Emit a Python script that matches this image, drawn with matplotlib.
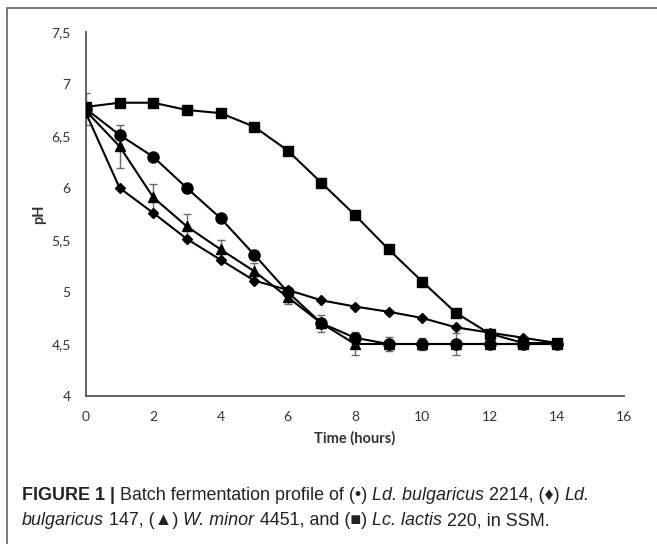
import matplotlib.pyplot as plt
from matplotlib.patches import Rectangle

# pH readings, one value per hour
hours = list(range(15))
ph_ld_2214 = [6.76, 6.51, 6.30, 6.00, 5.71, 5.36, 5.00, 4.70, 4.56, 4.50, 4.50, 4.50, 4.50, 4.50, 4.50]
ph_ld_147 = [6.72, 6.00, 5.76, 5.51, 5.31, 5.11, 5.02, 4.92, 4.86, 4.81, 4.75, 4.66, 4.61, 4.56, 4.51]
ph_w_minor = [6.74, 6.40, 5.91, 5.63, 5.41, 5.20, 4.95, 4.70, 4.50, 4.50, 4.50, 4.50, 4.50, 4.50, 4.50]
ph_lc_lactis = [6.78, 6.82, 6.82, 6.75, 6.72, 6.59, 6.36, 6.05, 5.74, 5.41, 5.10, 4.80, 4.60, 4.51, 4.51]

err_ld_2214 = [0.15, 0, 0, 0, 0, 0, 0, 0, 0.06, 0.07, 0.06, 0.11, 0, 0, 0]
err_w_minor = [0, 0.21, 0.13, 0.12, 0.09, 0.08, 0.07, 0.08, 0.11, 0, 0, 0, 0, 0, 0]

x_ticks = [0, 2, 4, 6, 8, 10, 12, 14, 16]
y_ticks = [4, 4.5, 5, 5.5, 6, 6.5, 7, 7.5]
y_tick_labels = ["4", "4,5", "5", "5,5", "6", "6,5", "7", "7,5"]

caption_lines = [
    [("FIGURE 1 |", "bold"), (" Batch fermentation profile of (\u2022) ", "normal"),
     ("Ld. bulgaricus", "italic"), (" 2214, (\u2666) ", "normal"), ("Ld.", "italic")],
    [("bulgaricus", "italic"), (" 147, (\u25B2) ", "normal"), ("W. minor", "italic"),
     (" 4451, and (\u25A0) ", "normal"), ("Lc. lactis", "italic"), (" 220, in SSM.", "normal")],
]

W, H = 657, 544
fig = plt.figure(figsize=(W / 100, H / 100), dpi=100)
ax = fig.add_axes([86 / W, 1 - 396 / H, 538 / W, 364 / H])

tick_font = "Lato"
line_kw = dict(color="black", linewidth=1.5, zorder=3)


def draw_err(values, errs):
    xs = [h for h, e in zip(hours, errs) if e > 0]
    ys = [v for v, e in zip(values, errs) if e > 0]
    es = [e for e in errs if e > 0]
    ax.errorbar(xs, ys, yerr=es, fmt="none", ecolor="#6a6a6a", elinewidth=1.0,
                capsize=3, capthick=1.0, zorder=2)


draw_err(ph_ld_2214, err_ld_2214)
draw_err(ph_w_minor, err_w_minor)

ax.plot(hours, ph_ld_147, marker="D", markersize=5.5, **line_kw)
ax.plot(hours, ph_w_minor, marker="^", markersize=7.5, **line_kw)
ax.plot(hours, ph_ld_2214, marker="o", markersize=8, **line_kw)
ax.plot(hours, ph_lc_lactis, marker="s", markersize=7.5, **line_kw)

ax.set_xlim(0, 16)
ax.set_ylim(4, 7.5)
ax.set_xticks(x_ticks)
ax.set_yticks(y_ticks)
ax.set_yticklabels(y_tick_labels)
ax.tick_params(length=0, labelsize=10, labelcolor="#333333", pad=11)
for lab in ax.get_xticklabels() + ax.get_yticklabels():
    lab.set_fontfamily(tick_font)

for side in ("top", "right"):
    ax.spines[side].set_visible(False)
for side in ("left", "bottom"):
    ax.spines[side].set_color("#555555")
    ax.spines[side].set_linewidth(1.3)

fig.text(355 / W, 1 - 438 / H, "Time (hours)", ha="center", va="center",
         fontsize=10.5, fontweight="bold", family=tick_font, color="#333333")
fig.text(39 / W, 1 - 214 / H, "pH", ha="center", va="center", rotation=90,
         fontsize=10.5, fontweight="bold", family=tick_font, color="#333333")

# frame round the whole figure (only top and left edges fall inside the image)
fig.add_artist(Rectangle((7 / W, -0.1), 1.2, 1 - 8 / H + 0.1, transform=fig.transFigure,
                         fill=False, edgecolor="#555555", linewidth=1.1, clip_on=False))

# caption: pieces with mixed styles laid out one after another
cap_family = ["Liberation Sans", "DejaVu Sans"]
cap_size = 12.9
renderer = fig.canvas.get_renderer()


def make_text(s, style):
    weight = "bold" if style == "bold" else "normal"
    fstyle = "italic" if style == "italic" else "normal"
    return fig.text(0, 0, s, fontsize=cap_size, family=cap_family, fontweight=weight,
                    fontstyle=fstyle, va="baseline", ha="left", color="#222222")


probe_a = make_text("aa", "normal")
probe_b = make_text("a a", "normal")
space_px = probe_b.get_window_extent(renderer).width - probe_a.get_window_extent(renderer).width
probe_a.remove()
probe_b.remove()

baselines = [500, 525]
for parts, base in zip(caption_lines, baselines):
    x_px = 22
    for s, style in parts:
        lead = len(s) - len(s.lstrip(" "))
        trail = len(s) - len(s.rstrip(" "))
        core = s.strip(" ")
        x_px += lead * space_px
        t = make_text(core, style)
        t.set_position((x_px / W, 1 - base / H))
        x_px += t.get_window_extent(renderer).width + trail * space_px

fig.savefig("out.png", dpi=100)
